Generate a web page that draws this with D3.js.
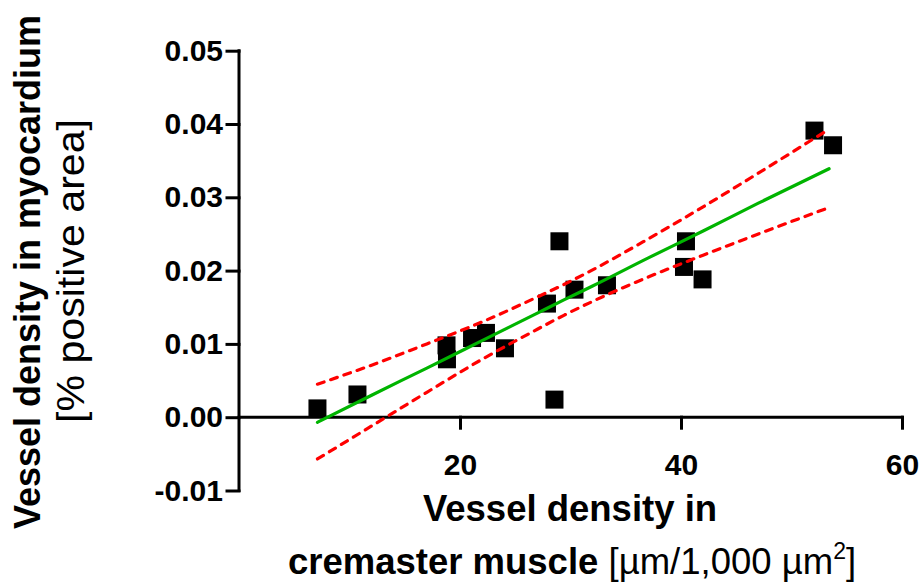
<!DOCTYPE html>
<html>
<head>
<meta charset="utf-8">
<script src="https://cdn.jsdelivr.net/npm/d3@7"></script>
<style>
  html, body { margin: 0; padding: 0; background: #fff; }
  svg { display: block; }
  text { font-family: "Liberation Sans", Arial, Helvetica, sans-serif; fill: #000; }
</style>
</head>
<body>
<svg id="chart" width="924" height="583"></svg>
<script>
// ---- Data ----
const pointX = [7.10, 10.72, 18.78, 18.82, 21.09, 22.35, 24.07, 27.87, 28.55, 29.00, 30.36, 33.30, 40.45, 40.27, 41.95, 52.08, 53.76];
const pointY = [0.0012, 0.0031, 0.0098, 0.0079, 0.0108, 0.0115, 0.0094, 0.0155, 0.0024, 0.0240, 0.0174, 0.0180, 0.0240, 0.0205, 0.0188, 0.0391, 0.0371];

// regression line and 95% confidence band, read at sample x positions
const fitX   = [7.1, 12, 17, 22, 27, 29.4, 32, 37, 42, 47, 53.4];
const fitY   = [-0.0007, 0.0030, 0.0067, 0.01045, 0.0142, 0.0160, 0.0179, 0.0217, 0.0254, 0.0292, 0.0339];
const upperY = [0.0045, 0.0071, 0.0100, 0.0130, 0.0164, 0.0181, 0.0201, 0.0243, 0.0287, 0.0333, 0.0393];
const lowerY = [-0.0057, -0.0012, 0.0034, 0.0079, 0.0120, 0.0139, 0.0158, 0.0191, 0.0221, 0.0250, 0.0286];

const xTicks = [20, 40, 60];
const yTicks = [-0.01, 0.00, 0.01, 0.02, 0.03, 0.04, 0.05];
const yTickLabels = ["-0.01", "0.00", "0.01", "0.02", "0.03", "0.04", "0.05"];

// ---- Chart ----
const svg = d3.select("#chart");
const x = d3.scaleLinear().domain([0, 60]).range([239, 902]);
const y = d3.scaleLinear().domain([-0.01, 0.05]).range([490.5, 50.7]);

const axisColor = "#000";
const axisW = 3;

// y axis
const yAxis = d3.axisLeft(y).tickValues(yTicks).tickSize(12).tickPadding(4)
  .tickFormat((d, i) => yTickLabels[i]);
const gy = svg.append("g").attr("transform", `translate(${x(0)},0)`).call(yAxis);
gy.select(".domain").attr("d", `M0,${y(0.05)}V${y(-0.01)}`).attr("stroke", axisColor).attr("stroke-width", axisW);
gy.selectAll(".tick line").attr("stroke", axisColor).attr("stroke-width", axisW);
gy.selectAll(".tick text").attr("font-size", 30).attr("font-weight", "bold")
  .attr("font-family", "Liberation Sans, Arial, sans-serif").attr("fill", "#000");

// x axis at y = 0
const xAxis = d3.axisBottom(x).tickValues(xTicks).tickSize(11).tickPadding(26);
const gx = svg.append("g").attr("transform", `translate(0,${y(0)})`).call(xAxis);
gx.select(".domain").attr("d", `M${x(0)},0H${x(60)}`).attr("stroke", axisColor).attr("stroke-width", axisW);
gx.selectAll(".tick line").attr("stroke", axisColor).attr("stroke-width", axisW);
gx.selectAll(".tick text").attr("font-size", 30).attr("font-weight", "bold")
  .attr("font-family", "Liberation Sans, Arial, sans-serif").attr("fill", "#000");
gx.selectAll(".domain, .tick line").attr("stroke-linecap", "square");
gy.selectAll(".domain, .tick line").attr("stroke-linecap", "square");

// points
const sq = 18;
svg.append("g").selectAll("rect").data(pointX.map((d, i) => [d, pointY[i]])).join("rect")
  .attr("x", d => x(d[0]) - sq / 2)
  .attr("y", d => y(d[1]) - sq / 2)
  .attr("width", sq).attr("height", sq)
  .attr("fill", "#000");

// lines
const line = d3.line().x(d => x(d[0])).y(d => y(d[1])).curve(d3.curveMonotoneX);
svg.append("path").datum(fitX.map((d, i) => [d, upperY[i]])).attr("d", line)
  .attr("fill", "none").attr("stroke", "#ff0000").attr("stroke-width", 3.2)
  .attr("stroke-dasharray", "7,7").attr("stroke-linecap", "round");
svg.append("path").datum(fitX.map((d, i) => [d, lowerY[i]])).attr("d", line)
  .attr("fill", "none").attr("stroke", "#ff0000").attr("stroke-width", 3.2)
  .attr("stroke-dasharray", "7,7").attr("stroke-linecap", "round");
svg.append("path").datum(fitX.map((d, i) => [d, fitY[i]])).attr("d", line)
  .attr("fill", "none").attr("stroke", "#00b400").attr("stroke-width", 3.2)
  .attr("stroke-linecap", "round");

// x title
svg.append("text").attr("x", 570).attr("y", 521).attr("text-anchor", "middle")
  .attr("font-size", 36.5).attr("font-weight", "bold").text("Vessel density in");
const xt2 = svg.append("text").attr("x", 572).attr("y", 574).attr("text-anchor", "middle")
  .attr("font-size", 36.5);
xt2.append("tspan").attr("font-weight", "bold").text("cremaster muscle");
xt2.append("tspan").text(" [µm/1,000 µm");
xt2.append("tspan").attr("font-size", 23).attr("dy", -15).text("2");
xt2.append("tspan").attr("dy", 15).text("]");

// y title
svg.append("text").attr("transform", "translate(40,272) rotate(-90)").attr("text-anchor", "middle")
  .attr("font-size", 36).attr("font-weight", "bold").text("Vessel density in myocardium");
svg.append("text").attr("transform", "translate(84,271) rotate(-90)").attr("text-anchor", "middle")
  .attr("font-size", 38).attr("textLength", 304).attr("lengthAdjust", "spacingAndGlyphs")
  .text("[% positive area]");
</script>
</body>
</html>
